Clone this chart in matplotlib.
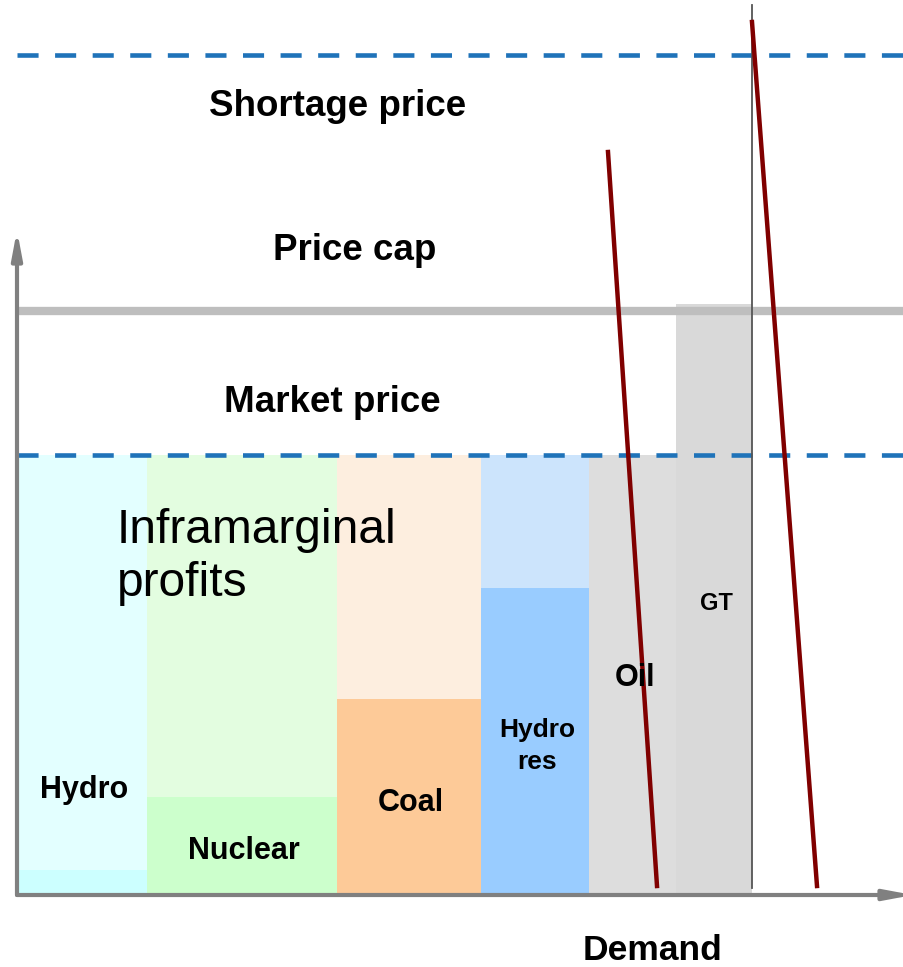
import numpy as np
import matplotlib.pyplot as plt

plt.rcParams['font.family'] = ['Liberation Sans', 'DejaVu Sans']

# merit order: capacity (demand units) and marginal cost (price units)
plants = ['Hydro', 'Nuclear', 'Coal', 'Hydro\nres', 'Oil', 'GT']
capacity = [13.0, 19.0, 14.4, 10.8, 8.7, 7.6]
cost = [2.5, 9.8, 19.6, 30.7, 44.0, 59.1]
cost_colors = ['#CCFFFF', '#CCFFCC', '#FDCA98', '#99CCFF', '#DDDDDD', '#D9D9D9']
profit_colors = ['#E3FFFF', '#E3FDE0', '#FDEEDF', '#CCE4FC', None, None]
label_y = [10.5, 4.4, 9.2, 14.9, 21.7, 29.1]
label_size = [22, 22, 22, 19, 22, 17]

market_price = 44.0
price_cap = 58.4
shortage_price = 84.0

# demand curves (x, y)
demand1_x = [59.1, 64.0]
demand1_y = [74.3, 0.9]
demand2_x = [73.5, 80.0]
demand2_y = [87.3, 0.9]
capacity_limit = 73.5

fig = plt.figure(figsize=(9.04, 9.67), dpi=100)
ax = fig.add_axes([0, 0, 1, 1])
ax.set_xlim(-1.7, 88.7)
ax.set_ylim(-7.2, 89.5)
ax.axis('off')

lefts = np.concatenate(([0], np.cumsum(capacity)[:-1]))
ax.bar(lefts, cost, width=capacity, align='edge', color=cost_colors, zorder=1)
for l, w, c, pc in zip(lefts, capacity, cost, profit_colors):
    if pc is not None and c < market_price:
        ax.bar(l, market_price - c, bottom=c, width=w, align='edge', color=pc, zorder=1)

for l, w, c, name, ly, fs in zip(lefts, capacity, cost, plants, label_y, label_size):
    ax.text(l + w / 2 + 0.2, ly, name, ha='center', va='center', fontsize=fs,
            fontweight='bold', zorder=5, linespacing=1.45)

# price lines
ax.plot([0, 90], [price_cap, price_cap], color='#BEBEBE', lw=6, zorder=2,
        solid_capstyle='butt')
ax.plot([0, 90], [market_price, market_price], color='#1F73B9', lw=3.3,
        dashes=(4.6, 3.6), zorder=3)
ax.plot([0, 90], [shortage_price, shortage_price], color='#1F73B9', lw=3.3,
        dashes=(4.6, 3.6), zorder=3)

# capacity limit and demand
ax.plot([capacity_limit, capacity_limit], [0.7, 89.0], color='#555555', lw=1.3, zorder=3)
ax.plot(demand1_x, demand1_y, color='#800000', lw=3.2, zorder=4)
ax.plot(demand2_x, demand2_y, color='#800000', lw=3.2, zorder=4)

# axes arrows
ax.annotate('', xy=(0, 66.5), xytext=(0, 0), annotation_clip=False,
            arrowprops=dict(arrowstyle='-|>,head_length=1.6,head_width=0.3',
                            color='#808080', lw=3, shrinkA=0, shrinkB=0), zorder=6)
ax.annotate('', xy=(89.6, 0), xytext=(0, 0), annotation_clip=False,
            arrowprops=dict(arrowstyle='-|>,head_length=1.6,head_width=0.3',
                            color='#808080', lw=3, shrinkA=0, shrinkB=0), zorder=6)

ax.text(32.1, 78.8, 'Shortage price', ha='center', va='center', fontsize=26.5, fontweight='bold')
ax.text(33.8, 64.4, 'Price cap', ha='center', va='center', fontsize=26.5, fontweight='bold')
ax.text(31.5, 49.3, 'Market price', ha='center', va='center', fontsize=26.5, fontweight='bold')
ax.text(10.0, 33.8, 'Inframarginal\nprofits', ha='left', va='center', fontsize=34.5,
        linespacing=1.22, zorder=5)
ax.text(63.6, -5.5, 'Demand', ha='center', va='center', fontsize=25.5, fontweight='bold')

fig.savefig('out.png', dpi=100)
